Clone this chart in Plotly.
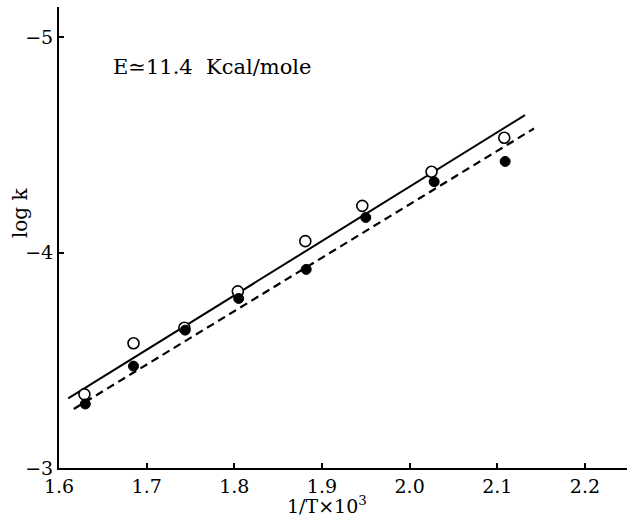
import plotly.graph_objects as go

# Data
x_open = [1.629, 1.685, 1.743, 1.804, 1.881, 1.946, 2.025, 2.108]
y_open = [-3.342, -3.579, -3.651, -3.820, -4.053, -4.217, -4.375, -4.533]
x_filled = [1.630, 1.685, 1.744, 1.805, 1.882, 1.950, 2.028, 2.109]
y_filled = [-3.297, -3.473, -3.640, -3.787, -3.922, -4.163, -4.329, -4.423]
x_solid = [1.6105, 2.1316]
y_solid = [-3.323, -4.638]
x_dash = [1.6169, 2.1419]
y_dash = [-3.274, -4.576]
x_ticks = [1.6, 1.7, 1.8, 1.9, 2.0, 2.1, 2.2]
x_ticklabels = ["1.6", "1.7", "1.8", "1.9", "2.0", "2.1", "2.2"]
y_ticks = [-3, -4, -5]
y_ticklabels = ["\u22123", "\u22124", "\u22125"]

FONT = "DejaVu Serif"

fig = go.Figure()
fig.add_trace(go.Scatter(x=x_solid, y=y_solid, mode="lines",
                         line=dict(color="black", width=2), showlegend=False))
fig.add_trace(go.Scatter(x=x_dash, y=y_dash, mode="lines",
                         line=dict(color="black", width=2.2, dash="8px,5px"), showlegend=False))
fig.add_trace(go.Scatter(x=x_open, y=y_open, mode="markers",
                         marker=dict(symbol="circle", size=11, color="white",
                                     line=dict(color="black", width=1.6)),
                         showlegend=False))
fig.add_trace(go.Scatter(x=x_filled, y=y_filled, mode="markers",
                         marker=dict(symbol="circle", size=10, color="black",
                                     line=dict(color="black", width=1)),
                         showlegend=False))

fig.update_layout(
    width=627, height=516,
    margin=dict(l=58.5, r=0, t=7, b=48),
    paper_bgcolor="white", plot_bgcolor="white",
    font=dict(family=FONT, color="black", size=20),
    xaxis=dict(range=[1.6, 2.248], tickvals=x_ticks, ticktext=x_ticklabels,
               ticks="inside", ticklen=5, tickwidth=1.5, tickcolor="black",
               showline=True, linecolor="black", linewidth=2,
               showgrid=False, zeroline=False,
               tickfont=dict(family=FONT, size=19)),
    yaxis=dict(range=[-3, -5.14], tickvals=y_ticks, ticktext=y_ticklabels,
               ticks="inside", ticklen=5, tickwidth=1.5, tickcolor="black",
               showline=True, linecolor="black", linewidth=2,
               showgrid=False, zeroline=False,
               tickfont=dict(family=FONT, size=19)),
    annotations=[
        dict(text="E\u224311.4  Kcal/mole", x=1.659, y=-4.861, xref="x", yref="y",
             xanchor="left", yanchor="middle", showarrow=False,
             font=dict(family=FONT, size=21)),
        dict(text="log k", x=0, y=0.553, xref="paper", yref="paper",
             xanchor="center", yanchor="middle", xshift=-39, textangle=-90,
             showarrow=False, font=dict(family=FONT, size=20)),
        dict(text="1/T\u00d710<sup>3</sup>", x=0.472, y=0, xref="paper", yref="paper",
             xanchor="center", yanchor="top", yshift=-23, showarrow=False,
             font=dict(family=FONT, size=19)),
    ],
)

fig.write_html("out.html")
